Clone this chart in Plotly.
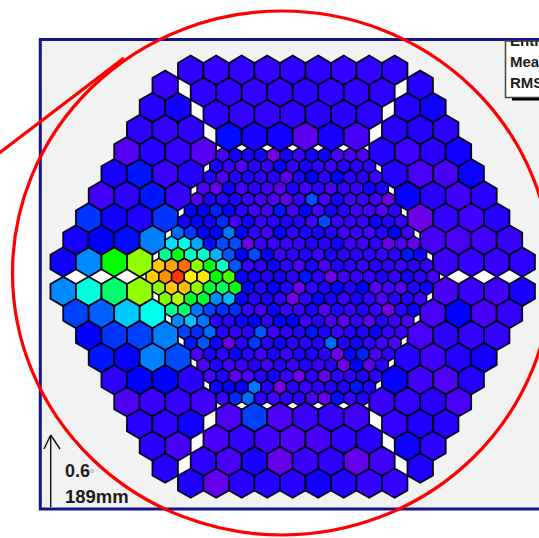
import plotly.graph_objects as go

# ---- pixel signal per camera pixel (0 = violet ... 100 = red)
inner_rows = [
 [8,17,15,16,1,16,10,16,17,8,8,7],
 [16,11,7,13,10,19,11,16,12,10,13,13,13],
 [14,7,14,15,12,13,5,15,20,13,20,12,13,9],
 [7,4,18,9,12,9,6,15,9,12,8,11,10,17,15],
 [7,15,13,15,10,9,8,5,12,27,9,16,9,10,9,3],
 [19,19,23,19,13,9,8,22,8,20,9,16,13,9,9,6,12],
 [16,20,17,24,9,17,10,13,15,14,9,27,11,10,10,17,14,10],
 [30,25,20,20,31,19,12,9,19,12,15,16,14,9,10,9,14,20,10],
 [41,46,36,21,27,27,3,10,10,10,10,14,13,17,9,9,12,3,7,4],
 [50,57,48,47,37,28,20,27,19,10,12,14,10,14,12,13,12,10,13,22,17],
 [78,82,88,66,57,47,28,11,12,17,12,8,15,8,14,12,10,13,12,10,13,12],
 [77,84,94,73,75,58,62,19,17,15,16,12,22,12,2,9,11,10,15,10,16,12,9],
 [66,78,79,66,55,53,57,20,13,19,14,4,12,15,20,15,20,6,9,6,14,18],
 [65,68,56,55,33,37,19,13,16,12,2,12,19,16,10,16,12,7,12,14,10],
 [50,52,31,26,24,24,10,9,17,10,10,15,6,14,10,14,10,1,13,18],
 [33,38,31,13,13,18,20,12,19,20,10,14,8,5,11,6,15,9,8],
 [26,24,30,13,12,13,28,10,12,14,22,15,10,14,14,18,10,10],
 [22,28,18,3,13,25,13,16,13,12,14,30,14,17,12,9,7],
 [8,15,12,18,13,9,15,10,15,15,12,2,19,23,8,12],
 [7,14,9,10,13,9,13,10,14,10,13,2,20,5,13],
 [9,14,5,8,13,16,10,3,12,4,13,11,14,12],
 [18,20,19,31,14,1,13,10,12,14,14,22,15],
 [10,24,30,13,9,12,13,8,4,21,10,14],
]
top_block = [
 [12,11,11,11,12,12,11,11,12],
 [12,12,11,12,12,12,12,12],
 [12,11,11,12,13,13,12],
 [21,16,17,5,16,8],
]
bottom_block = [
 [15,4,13,14,13,17,14,11,11],
 [12,8,16,4,10,12,4,9],
 [8,11,9,7,8,12,13],
 [7,26,7,10,11,9],
]
upper_left = [
 [17,33,58,66],[16,20,21,32],[25,17,15,25],[9,12,22,11],[16,22,10,14],
 [6,14,11,6],[12,11,12],[14,17],[10],
]
lower_left = [
 [33,46,52,66],[26,29,39,45],[20,25,26,32],[22,19,32,27],[12,20,20,13],
 [7,10,11,9],[13,12,17],[13,8],[14],
]
upper_right = [
 [10,11,10,12],[8,8,9,10],[3,11,9,14],[19,13,9,13],[14,8,8,18],
 [14,9,13,17],[13,14,12],[14,18],[14],
]
lower_right = [
 [8,10,9,16],[8,20,8,11],[8,12,11,11],[14,9,14,17],[19,9,7,14],
 [10,11,13,8],[11,15,14],[18,12],[15],
]
color_stops = [[0,"#8000e0"],[0.10,"#3a00ff"],[0.20,"#0000ff"],[0.44,"#00ffff"],
               [0.58,"#00ff00"],[0.72,"#ffff00"],[1.0,"#ff0000"]]

W, H = 539, 538
CX, CY, PITCH = 292.7, 276.7, 12.75
ROW = 0.8660254

# ---- camera geometry, in units of one inner-pixel pitch
ix, iy, iv = [], [], []
for n, row in zip(range(-11, 12), inner_rows):
    for j, v in enumerate(row):
        ix.append(-(len(row) - 1) / 2 + j); iy.append(-n * ROW); iv.append(v)

ox, oy, ov = [], [], []
for ys, block, heights in ((1, top_block, [16.19, 14.46, 12.73, 10.99]),
                           (-1, bottom_block, [16.19, 14.46, 12.73, 10.99])):
    for y, row in zip(heights, block):
        for j, v in enumerate(row):
            ox.append(-(len(row) - 1) + 2 * j); oy.append(ys * y); ov.append(v)
for ys, rows, right in ((1, upper_left, False), (-1, lower_left, False),
                        (1, upper_right, True), (-1, lower_right, True)):
    for m, row in enumerate(rows):
        y = 1.153 + 2 * ROW * m
        for j, v in enumerate(row):
            x0 = (18 - m) - 2 * (len(row) - 1) if right else -18 + m
            ox.append(x0 + 2 * j); oy.append(ys * y); ov.append(v)

def hull(points):
    pts = sorted(set(points))
    def half(seq):
        out = []
        for p in seq:
            while len(out) > 1 and ((out[-1][0]-out[-2][0])*(p[1]-out[-2][1]) -
                                    (out[-1][1]-out[-2][1])*(p[0]-out[-2][0])) <= 0:
                out.pop()
            out.append(p)
        return out[:-1]
    return half(pts) + half(pts[::-1])

h = hull(list(zip(ox, oy)))
hx = [p[0] for p in h] + [h[0][0]]
hy = [p[1] for p in h] + [h[0][1]]

fig = go.Figure()
fig.add_trace(go.Scatter(x=hx, y=hy, mode="lines", fill="toself", fillcolor="white",
                         line=dict(width=0, color="white"), hoverinfo="skip"))
for xs, ys, vs, size, lw in ((ox, oy, ov, 29.4, 1.8), (ix, iy, iv, 14.7, 1.5)):
    fig.add_trace(go.Scatter(
        x=xs, y=ys, mode="markers", hoverinfo="skip",
        marker=dict(symbol="hexagon", size=size, color=vs, cmin=0, cmax=100,
                    colorscale=color_stops, showscale=False,
                    line=dict(color="#03031c", width=lw))))

TXT = "#1c1c1c"
labels = [
    (510, 42, "Entr", 15), (510, 63, "Mea", 15), (510, 84, "RMS", 15),
    (65, 472, "0.6<span style='color:#aaaaaa;font-size:11px'>°</span>", 18),
    (65, 498, "189mm", 18.5),
]
for x, y, t, s in labels:
    fig.add_trace(go.Scatter(x=[x], y=[y], xaxis="x2", yaxis="y2", mode="text", text=[t],
                             textposition="middle right", hoverinfo="skip",
                             textfont=dict(family="Liberation Sans", size=s, color=TXT,
                                           weight="bold")))

def px(x): return x / W
def py(y): return 1 - y / H
def rect(x0, y0, x1, y1, **kw):
    return dict(type="rect", xref="paper", yref="paper", x0=px(x0), x1=px(x1),
                y0=py(y0), y1=py(y1), **kw)
def seg(x0, y0, x1, y1, color, width):
    return dict(type="line", xref="paper", yref="paper", x0=px(x0), x1=px(x1), y0=py(y0),
                y1=py(y1), line=dict(color=color, width=width), layer="above")

shapes = [
    rect(40.3, 39.5, 560, 509, fillcolor="#f2f2f2", line=dict(color="#14148a", width=3), layer="below"),
    rect(512, 97, 560, 100.5, fillcolor="#000000", line=dict(width=0), layer="below"),
    rect(505.5, 41, 560, 97.5, fillcolor="#ffffff", line=dict(color="#444444", width=1.5), layer="below"),
    seg(50.7, 507, 50.7, 435, "#111111", 1.4),
    seg(44, 449, 50.7, 435, "#111111", 1.4),
    seg(60, 449, 50.7, 435, "#111111", 1.4),
    seg(-2, 154, 124, 58, "#ff0000", 3.2),
    dict(type="circle", xref="paper", yref="paper", x0=px(282-269.5), x1=px(282+269.5),
         y0=py(273+262), y1=py(273-262), line=dict(color="#ff0000", width=3.2),
         fillcolor="rgba(0,0,0,0)", layer="above"),
]

off = dict(visible=False, fixedrange=True)
fig.update_layout(
    width=W, height=H, margin=dict(l=0, r=0, t=0, b=0), autosize=False,
    paper_bgcolor="white", plot_bgcolor="rgba(0,0,0,0)", showlegend=False, shapes=shapes,
    xaxis=dict(range=[-CX / PITCH, (W - CX) / PITCH], domain=[0, 1], **off),
    yaxis=dict(range=[-(H - CY) / PITCH, CY / PITCH], domain=[0, 1], **off),
    xaxis2=dict(range=[0, W], domain=[0, 1], anchor="y2", **off),
    yaxis2=dict(range=[H, 41], domain=[0, 1 - 41 / H], anchor="x2", **off),
)
fig.write_html("out.html", config=dict(displayModeBar=False),
               post_script="document.body.style.margin='0';document.body.style.overflow='hidden';")
